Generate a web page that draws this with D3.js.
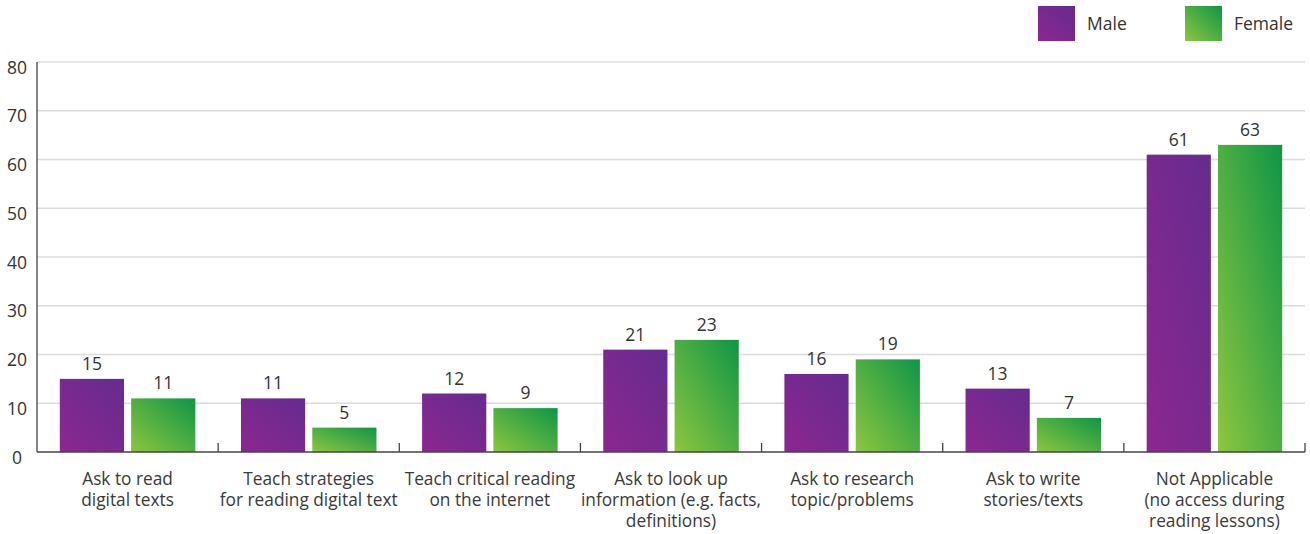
<!DOCTYPE html>
<html>
<head>
<meta charset="utf-8">
<script src="https://cdn.jsdelivr.net/npm/d3@7"></script>
<style>
  html, body { margin: 0; padding: 0; background: #fff; }
  svg text { font-family: "Open Sans", Lato, sans-serif; fill: #333; }
</style>
</head>
<body>
<svg id="chart" width="1310" height="534"></svg>
<script>
// Chart data
const categories = [
  ["Ask to read", "digital texts"],
  ["Teach strategies", "for reading digital text"],
  ["Teach critical reading", "on the internet"],
  ["Ask to look up", "information (e.g. facts,", "definitions)"],
  ["Ask to research", "topic/problems"],
  ["Ask to write", "stories/texts"],
  ["Not Applicable", "(no access during", "reading lessons)"]
];
const seriesNames = ["Male", "Female"];
const maleValues = [15, 11, 12, 21, 16, 13, 61];
const femaleValues = [11, 5, 9, 23, 19, 7, 63];
const yTicks = [0, 10, 20, 30, 40, 50, 60, 70, 80];

const svg = d3.select("#chart");
const margin = { left: 37, right: 5, top: 62, bottom: 82 };
const W = 1310, H = 534;

const x = d3.scaleBand()
  .domain(d3.range(categories.length))
  .range([margin.left, W - margin.right]);
const xs = d3.scaleBand()
  .domain(seriesNames)
  .range([0, x.bandwidth()])
  .paddingInner(0.1)
  .paddingOuter(0.32);
const y = d3.scaleLinear().domain([0, 80]).range([H - margin.bottom, margin.top]);

// Diagonal gradients for each series
const defs = svg.append("defs");
const grads = {
  Male: ["#8c2790", "#652b8f"],
  Female: ["#8dc63f", "#0f9547"]
};
Object.entries(grads).forEach(([k, [c0, c1]]) => {
  const g = defs.append("linearGradient").attr("id", "g" + k)
    .attr("x1", 0).attr("y1", 1).attr("x2", 1).attr("y2", 0);
  g.append("stop").attr("offset", 0).attr("stop-color", c0);
  g.append("stop").attr("offset", 1).attr("stop-color", c1);
});

// Gridlines
svg.append("g").selectAll("line").data(yTicks.filter(d => d > 0)).join("line")
  .attr("x1", margin.left).attr("x2", W - margin.right)
  .attr("y1", d => y(d)).attr("y2", d => y(d))
  .attr("stroke", "#dcdcdc").attr("stroke-width", 1.3);

// Y axis labels
svg.append("g").selectAll("text").data(yTicks).join("text")
  .attr("x", 17).attr("y", d => y(d) + 7)
  .attr("text-anchor", "middle").attr("dominant-baseline", "middle")
  .style("font-size", "17.5px")
  .text(d => d);

// Bars and value labels
const series = [
  { name: "Male", values: maleValues },
  { name: "Female", values: femaleValues }
];
series.forEach(s => {
  const g = svg.append("g");
  g.selectAll("rect").data(s.values).join("rect")
    .attr("x", (d, i) => x(i) + xs(s.name))
    .attr("y", d => y(d))
    .attr("width", xs.bandwidth())
    .attr("height", d => y(0) - y(d))
    .attr("fill", `url(#g${s.name})`);
  g.selectAll("text").data(s.values).join("text")
    .attr("x", (d, i) => x(i) + xs(s.name) + xs.bandwidth() / 2)
    .attr("y", d => y(d) - 9)
    .attr("text-anchor", "middle")
    .style("font-size", "17.5px")
    .text(d => d);
});

// Axis lines
svg.append("line")
  .attr("x1", margin.left).attr("x2", margin.left)
  .attr("y1", margin.top).attr("y2", y(0))
  .attr("stroke", "#444").attr("stroke-width", 1.3);
svg.append("line")
  .attr("x1", margin.left).attr("x2", W - margin.right)
  .attr("y1", y(0)).attr("y2", y(0))
  .attr("stroke", "#444").attr("stroke-width", 1.5);

// Category separators
svg.append("g").selectAll("line").data(d3.range(1, categories.length + 1)).join("line")
  .attr("x1", i => x(i - 1) + x.bandwidth()).attr("x2", i => x(i - 1) + x.bandwidth())
  .attr("y1", y(0) - 9).attr("y2", y(0))
  .attr("stroke", "#444").attr("stroke-width", 1.3);

// Category labels
const lab = svg.append("g").selectAll("text").data(categories).join("text")
  .attr("x", (d, i) => x(i) + x.bandwidth() / 2)
  .attr("y", 485)
  .attr("text-anchor", "middle")
  .style("font-size", "17.3px")
  .style("fill", "#3a3a3a");
lab.each(function(lines) {
  d3.select(this).selectAll("tspan").data(lines).join("tspan")
    .attr("x", d3.select(this).attr("x"))
    .attr("dy", (d, j) => j === 0 ? 0 : 21)
    .text(d => d);
});

// Legend
const legendX = [1038, 1185];
seriesNames.forEach((name, i) => {
  svg.append("rect")
    .attr("x", legendX[i]).attr("y", 6).attr("width", 37).attr("height", 35)
    .attr("fill", `url(#g${name})`);
  svg.append("text")
    .attr("x", legendX[i] + 49).attr("y", 25)
    .attr("dominant-baseline", "middle")
    .style("font-size", "17.5px")
    .text(name);
});
</script>
</body>
</html>
